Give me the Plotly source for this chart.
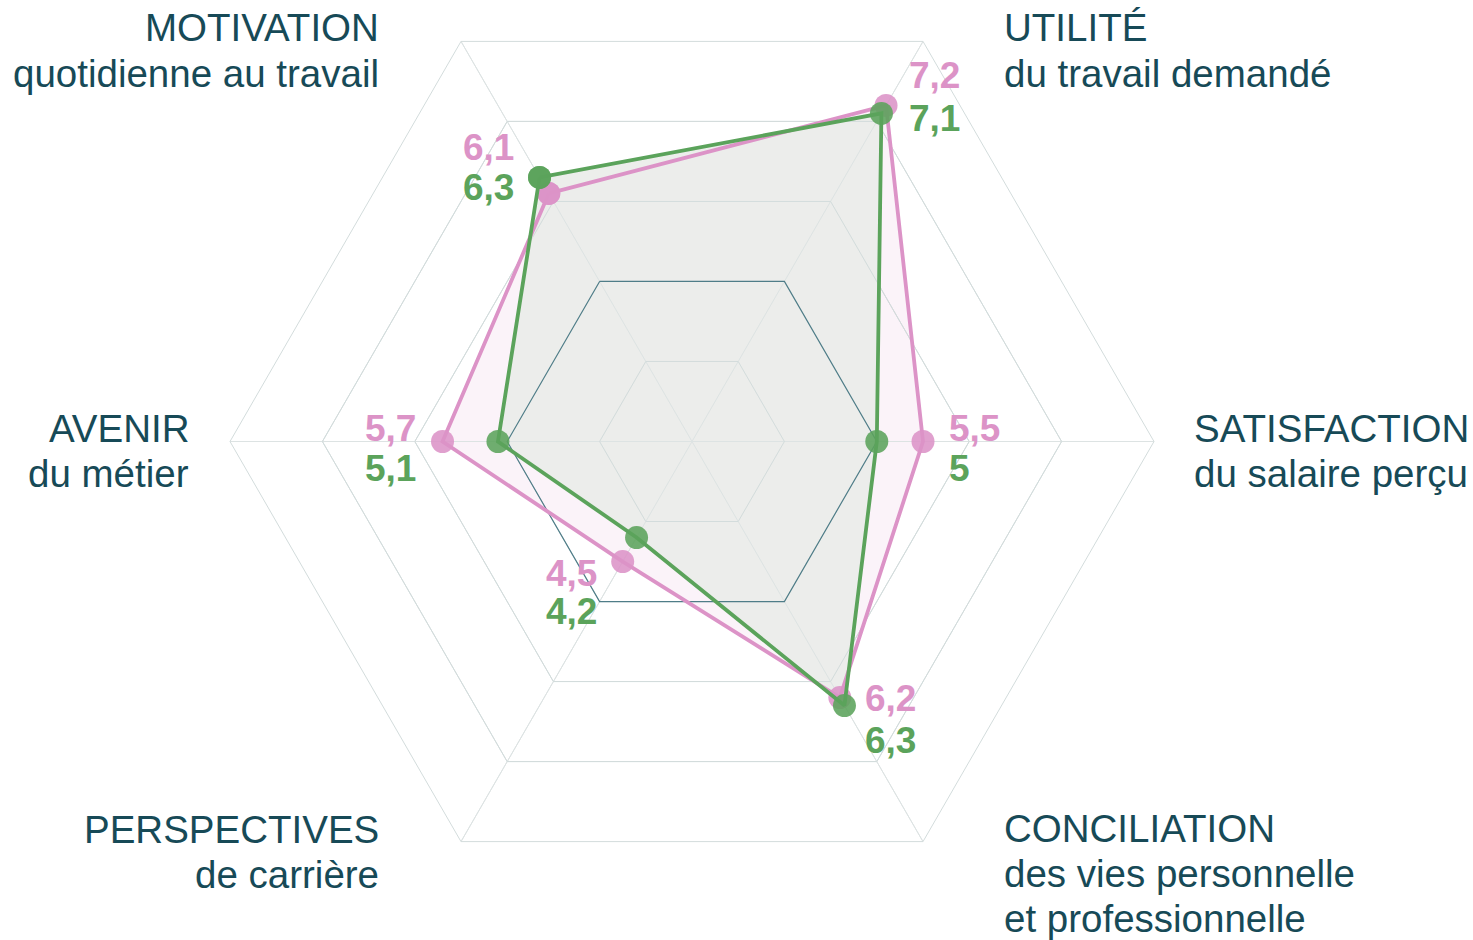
import plotly.graph_objects as go

# ---------------- data ----------------
categories = ["MOTIVATION", "UTILITÉ", "SATISFACTION", "CONCILIATION", "PERSPECTIVES", "AVENIR"]
subtitles = [
    ["quotidienne au travail"],
    ["du travail demandé"],
    ["du salaire perçu"],
    ["des vies personnelle", "et professionnelle"],
    ["de carrière"],
    ["du métier"],
]
pink_values = [6.1, 7.2, 5.5, 6.2, 4.5, 5.7]
green_values = [6.3, 7.1, 5.0, 6.3, 4.2, 5.1]
radial_ticks = [4, 5, 6, 7, 8]
radial_range = [3, 8]
reference_level = 5


def fmt(v):
    return f"{v:g}".replace(".", ",")


# ---------------- geometry / styles ----------------
W, VIEW_H, SHIFT = 1473, 940, 22
H = VIEW_H + SHIFT
CX, CY, R = 692, 441.5, 462

PINK = "#dc93c7"
GREEN = "#5ba35b"
TEAL = "#174a57"
GRID = "#d3dcdc"
SPOKE = "#dde3e3"
FONT = "Liberation Sans, Arial, sans-serif"


def px(x):
    return x / W


def py(y):
    return (H - (y + SHIFT)) / H


# label layout: (anchor x, title centre y, xanchor)
label_pos = {
    "MOTIVATION": (380, 28, "right"),
    "UTILITÉ": (1003, 28, "left"),
    "SATISFACTION": (1193, 428, "left"),
    "CONCILIATION": (1003, 828, "left"),
    "PERSPECTIVES": (380, 829, "right"),
    "AVENIR": (190, 428, "right"),
}
LINE_GAP = 45

# value label layout: (x, pink centre y, green centre y, xanchor)
value_pos = {
    "MOTIVATION": (462, 148, 188, "left"),
    "UTILITÉ": (908, 76, 118, "left"),
    "SATISFACTION": (948, 428, 468, "left"),
    "CONCILIATION": (864, 698, 740, "left"),
    "PERSPECTIVES": (598, 573, 611, "right"),
    "AVENIR": (417, 428, 468, "right"),
}

theta_closed = categories + [categories[0]]

fig = go.Figure()

# area fills (below the grid overlay)
fig.add_trace(go.Scatterpolar(
    r=pink_values + [pink_values[0]], theta=theta_closed,
    mode="lines", fill="toself", fillcolor="rgba(218,140,198,0.10)",
    line=dict(color="rgba(0,0,0,0)", width=0),
    hoverinfo="skip", showlegend=False,
))
fig.add_trace(go.Scatterpolar(
    r=green_values + [green_values[0]], theta=theta_closed,
    mode="lines", fill="toself", fillcolor="rgba(234,236,233,0.9)",
    line=dict(color="rgba(0,0,0,0)", width=0),
    hoverinfo="skip", showlegend=False,
))

# grid overlay so that the grid stays visible through the filled areas
spoke_r, spoke_t = [], []
for c in categories:
    spoke_r += [radial_range[0], radial_range[1], None]
    spoke_t += [c, c, None]
fig.add_trace(go.Scatterpolar(
    r=spoke_r, theta=spoke_t, mode="lines", connectgaps=False,
    line=dict(color=SPOKE, width=1), hoverinfo="skip", showlegend=False,
))
for t in radial_ticks:
    if t in (reference_level, radial_range[1]):
        continue
    fig.add_trace(go.Scatterpolar(
        r=[t] * len(theta_closed), theta=theta_closed, mode="lines",
        line=dict(color=GRID, width=1), hoverinfo="skip", showlegend=False,
    ))
fig.add_trace(go.Scatterpolar(
    r=[reference_level] * len(theta_closed), theta=theta_closed,
    mode="lines", line=dict(color="#4f7d88", width=1.2),
    hoverinfo="skip", showlegend=False,
))

# series lines and markers
fig.add_trace(go.Scatterpolar(
    r=pink_values + [pink_values[0]], theta=theta_closed,
    mode="lines+markers",
    line=dict(color=PINK, width=3.8),
    marker=dict(size=23, color=PINK, opacity=0.88),
    showlegend=False, name="rose",
))
fig.add_trace(go.Scatterpolar(
    r=green_values + [green_values[0]], theta=theta_closed,
    mode="lines+markers",
    line=dict(color=GREEN, width=3.8),
    marker=dict(size=23, color=GREEN, opacity=0.88),
    showlegend=False, name="vert",
))

annotations = []
for cat, subs in zip(categories, subtitles):
    x, yc, xa = label_pos[cat]
    lines = [cat] + subs
    for i, t in enumerate(lines):
        annotations.append(dict(
            x=px(x), y=py(yc + i * LINE_GAP), xref="paper", yref="paper",
            xanchor=xa, yanchor="middle", text=t, showarrow=False,
            font=dict(family=FONT, size=38.5, color=TEAL), borderpad=0,
        ))

for cat, pv, gv in zip(categories, pink_values, green_values):
    x, yp, yg, xa = value_pos[cat]
    for y, v, col in ((yp, pv, PINK), (yg, gv, GREEN)):
        annotations.append(dict(
            x=px(x), y=py(y), xref="paper", yref="paper",
            xanchor=xa, yanchor="middle", text=f"<b>{fmt(v)}</b>", showarrow=False,
            font=dict(family=FONT, size=37, color=col), borderpad=0,
        ))

fig.update_layout(
    width=W, height=H,
    margin=dict(l=0, r=0, t=0, b=0),
    paper_bgcolor="white", plot_bgcolor="white",
    showlegend=False,
    polar=dict(
        domain=dict(x=[px(CX - R), px(CX + R)], y=[py(CY + R), py(CY - R)]),
        bgcolor="rgba(0,0,0,0)",
        gridshape="linear",
        radialaxis=dict(range=radial_range, tickvals=radial_ticks, showticklabels=False,
                        ticks="", showline=False, gridcolor=GRID, gridwidth=1),
        angularaxis=dict(type="category", categoryarray=categories, rotation=120,
                         direction="clockwise", showticklabels=False, ticks="",
                         showgrid=True, gridcolor=SPOKE, gridwidth=1,
                         showline=True, linecolor=GRID, linewidth=1),
    ),
    annotations=annotations,
)

post = ("document.documentElement.style.overflow='hidden';"
        "document.body.style.margin='0';document.body.style.overflow='hidden';"
        "var gd=document.getElementById('{plot_id}');gd.style.marginTop='-%dpx';" % SHIFT)

fig.write_html("out.html", post_script=post)
